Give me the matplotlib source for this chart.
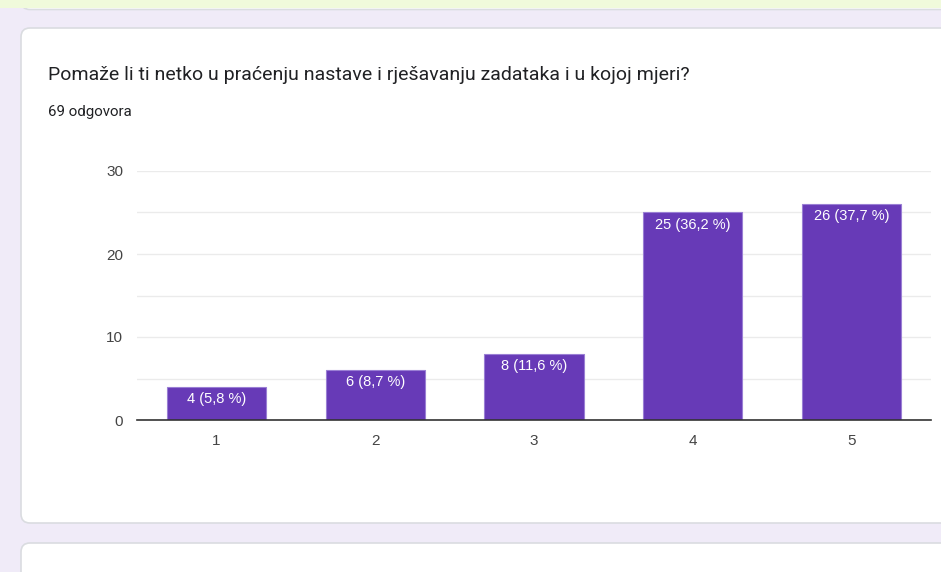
import matplotlib
matplotlib.use("Agg")
import matplotlib.pyplot as plt
from matplotlib.patches import FancyBboxPatch, Rectangle

# Survey answers (scale 1-5) and counts
categories = ["1", "2", "3", "4", "5"]
counts = [4, 6, 8, 25, 26]
labels = ["4 (5,8 %)", "6 (8,7 %)", "8 (11,6 %)", "25 (36,2 %)", "26 (37,7 %)"]
yticks = [0, 10, 20, 30]

title = "Pomaže li ti netko u praćenju nastave i rješavanju zadataka i u kojoj mjeri?"
subtitle = "69 odgovora"

W, H = 941, 572
fig = plt.figure(figsize=(W / 100, H / 100), dpi=100)
fig.patch.set_facecolor("#f0ebf8")

# page background in pixel coordinates
bg = fig.add_axes([0, 0, 1, 1])
bg.set_xlim(0, W)
bg.set_ylim(H, 0)
bg.axis("off")

card_style = dict(boxstyle="round,pad=0,rounding_size=9", facecolor="white",
                  edgecolor="#dadce0", linewidth=1.2)
# bottom of previous card, the main card, top of next card
bg.add_patch(FancyBboxPatch((21, -30), 940, 39.5, **card_style))
bg.add_patch(FancyBboxPatch((21, 28), 940, 495, **card_style))
bg.add_patch(FancyBboxPatch((21, 543), 940, 60, **card_style))
bg.add_patch(Rectangle((0, 0), W, 8, facecolor="#f0fadb", edgecolor="none"))

bg.text(48, 75, title, fontsize=14, family="Roboto", color="#202124", va="center")
bg.text(48, 112, subtitle, fontsize=10.8, family="Roboto", color="#202124", va="center")

# chart
ax = fig.add_axes([137 / W, (H - 420) / H, (931 - 137) / W, (420 - 171) / H])
ax.set_facecolor("white")
x = list(range(1, len(categories) + 1))
ax.bar(x, counts, width=0.625, color="#673ab7", edgecolor="#9a7fd4", linewidth=0.8, zorder=3)

for xi, c, lab in zip(x, counts, labels):
    ax.annotate(lab, (xi, c), xytext=(0, -12), textcoords="offset pixels",
                ha="center", va="center", color="white", fontsize=10.5,
                family="Liberation Sans", zorder=4)

ax.set_xlim(0.5, 5.5)
ax.set_ylim(0, 30)
ax.set_yticks(yticks)
ax.set_yticks([5, 15, 25], minor=True)
ax.set_xticks(x)
ax.set_xticklabels(categories)
ax.grid(axis="y", which="both", color="#ebebeb", linewidth=1, zorder=0)
for s in ["top", "right", "left"]:
    ax.spines[s].set_visible(False)
ax.spines["bottom"].set_color("#333333")
ax.spines["bottom"].set_linewidth(1.2)
ax.spines["bottom"].set_zorder(5)
ax.tick_params(axis="both", which="both", length=0, colors="#444444", labelsize=11)
ax.tick_params(axis="y", pad=10)
ax.tick_params(axis="x", pad=10)
for t in ax.get_xticklabels() + ax.get_yticklabels():
    t.set_family("Liberation Sans")

fig.savefig("out.png", dpi=100, facecolor=fig.get_facecolor())
